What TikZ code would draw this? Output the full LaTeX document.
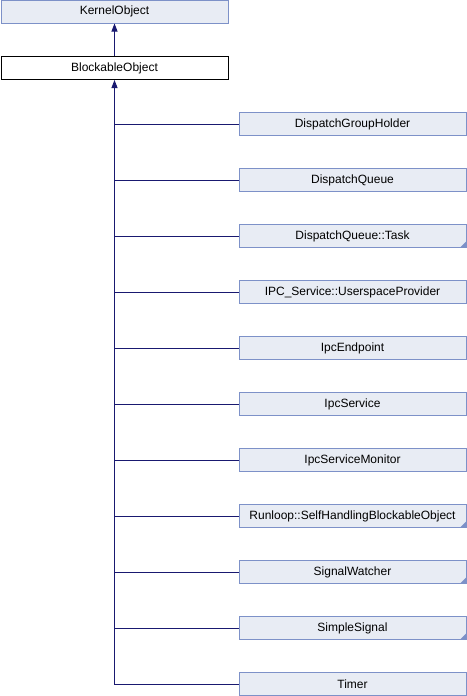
\documentclass[tikz,border=0pt]{standalone}
\usepackage{fontspec}
\setmainfont{Liberation Sans}
\usetikzlibrary{arrows.meta}

\definecolor{boxfill}{RGB}{232,236,244}
\definecolor{boxedge}{RGB}{125,145,200}
\definecolor{edgeblue}{RGB}{25,25,112}

\tikzset{
  classbox/.style={draw=boxedge, fill=boxfill, line width=1pt, minimum width=227pt, minimum height=23pt, inner sep=0pt, anchor=west, font=\fontsize{12}{13}\selectfont},
  mainbox/.style={classbox, draw=black, fill=white},
  morebox/.style={classbox, path picture={\fill[boxedge] (path picture bounding box.south east) -- ++(-6pt,0) -- ++(6pt,6pt) -- cycle;}},
  inherit/.style={draw=edgeblue, line width=1pt, {Triangle[length=8pt,width=6pt]}-},
  branch/.style={draw=edgeblue, line width=1pt}
}

\begin{document}
\begin{tikzpicture}[x=1pt, y=1pt]
\useasboundingbox (0,0) rectangle (466,-696);
\node[classbox] (KO) at (0.5,-11.5) {KernelObject};
\node[mainbox] (BO) at (0.5,-68) {BlockableObject};
\node[classbox] (DGH) at (238.5,-124) {DispatchGroupHolder};
\node[classbox] (DQ) at (238.5,-180) {DispatchQueue};
\node[morebox] (DQT) at (238.5,-236) {DispatchQueue::Task};
\node[classbox] (USP) at (238.5,-292) {IPC\_Service::UserspaceProvider};
\node[classbox] (IE) at (238.5,-348) {IpcEndpoint};
\node[classbox] (IS) at (238.5,-404) {IpcService};
\node[classbox] (ISM) at (238.5,-460) {IpcServiceMonitor};
\node[morebox] (SHBO) at (238.5,-516) {Runloop::SelfHandlingBlockableObject};
\node[morebox] (SW) at (238.5,-572) {SignalWatcher};
\node[morebox] (SS) at (238.5,-628) {SimpleSignal};
\node[classbox] (TM) at (238.5,-684) {Timer};
\draw[inherit] (KO.south) -- (BO.north);
\draw[inherit] (BO.south) |- (TM.west);
\draw[branch] (DGH.west) -- (DGH.west -| BO.south);
\draw[branch] (DQ.west) -- (DQ.west -| BO.south);
\draw[branch] (DQT.west) -- (DQT.west -| BO.south);
\draw[branch] (USP.west) -- (USP.west -| BO.south);
\draw[branch] (IE.west) -- (IE.west -| BO.south);
\draw[branch] (IS.west) -- (IS.west -| BO.south);
\draw[branch] (ISM.west) -- (ISM.west -| BO.south);
\draw[branch] (SHBO.west) -- (SHBO.west -| BO.south);
\draw[branch] (SW.west) -- (SW.west -| BO.south);
\draw[branch] (SS.west) -- (SS.west -| BO.south);
\end{tikzpicture}
\end{document}
